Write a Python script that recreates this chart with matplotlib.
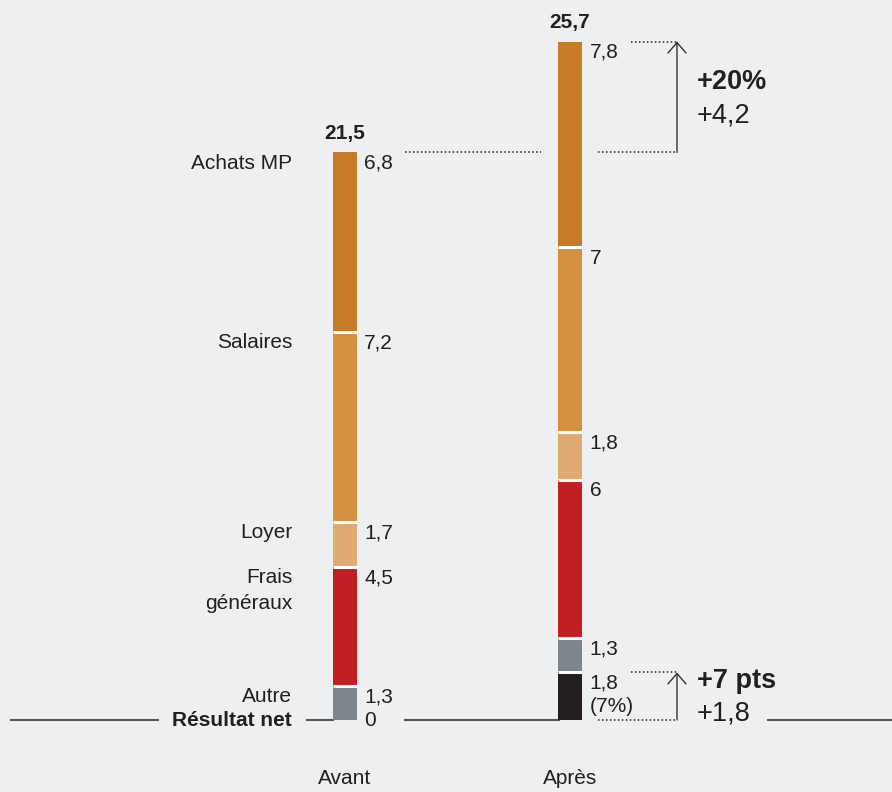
import matplotlib.pyplot as plt
from matplotlib.patches import FancyArrowPatch

# données (bas -> haut)
postes = ["Résultat net", "Autre", "Frais\ngénéraux", "Loyer", "Salaires", "Achats MP"]
avant = [0, 1.3, 4.5, 1.7, 7.2, 6.8]
apres = [1.8, 1.3, 6, 1.8, 7, 7.8]
periodes = ["Avant", "Après"]
totaux = ["21,5", "25,7"]
couleurs = ["#231f20", "#7e858b", "#c21f24", "#e0aa72", "#d49140", "#c77a27"]
labels_avant = ["0", "1,3", "4,5", "1,7", "7,2", "6,8"]
labels_apres = ["1,8\n(7%)", "1,3", "6", "1,8", "7", "7,8"]

fond = "#eeeff1"
texte = "#231f20"
plt.rcParams['font.family'] = ['Liberation Sans', 'DejaVu Sans']

W, H = 892, 792
fig = plt.figure(figsize=(W / 100, H / 100), dpi=100, facecolor=fond)
ax = fig.add_axes([0, 0, 1, 1])
ax.set_facecolor(fond)
ax.axis('off')

# echelle: 1 unite = 26.4 px, zero a y=720 ; barres a x=344.5 et 570
ppu = 26.4
ax.set_ylim(-(H - 720) / ppu, 720 / ppu)
x0, dx = 344.5, 225.5
ax.set_xlim(-x0 / dx, (W - x0) / dx)


def px(p):
    return (p - x0) / dx


largeur = 24 / dx
fs = 15
fs_big = 19.5

for i, (vals, labs) in enumerate([(avant, labels_avant), (apres, labels_apres)]):
    bas = 0
    for j, v in enumerate(vals):
        haut = bas + v
        if v > 0:
            ax.bar(i, v, bottom=bas, width=largeur, color=couleurs[j],
                   linewidth=0, zorder=3)
            # separation blanche entre segments
            if j < len(vals) - 1:
                ax.hlines(haut, i - largeur / 2, i + largeur / 2, color="white",
                          lw=2.2, zorder=4)
        if j == 0 and i == 0:
            ax.annotate(labs[j], (i + largeur / 2, 0), xytext=(5.5, 0),
                        textcoords="offset points", ha="left", va="center",
                        fontsize=fs, color=texte)
        else:
            ax.annotate(labs[j], (i + largeur / 2, haut), xytext=(5.5, -1),
                        textcoords="offset points", ha="left", va="top",
                        fontsize=fs, color=texte, linespacing=1.25)
        if i == 0:
            if j == 0:
                ax.annotate(postes[j], (i - largeur / 2, 0), xytext=(-29, 0),
                            textcoords="offset points", ha="right", va="center",
                            fontsize=fs, color=texte, fontweight="bold")
            else:
                ax.annotate(postes[j], (i - largeur / 2, haut), xytext=(-29, -1),
                            textcoords="offset points", ha="right", va="top",
                            fontsize=fs, color=texte, linespacing=1.45)
        bas = haut
    ax.annotate(totaux[i], (i, bas), xytext=(0, 9.5), textcoords="offset points",
                ha="center", va="baseline", fontsize=fs, fontweight="bold",
                color=texte)
    ax.text(i, -2.2, periodes[i], ha="center", va="center", fontsize=fs,
            color=texte)

# ligne de base
for a, b in [(10, 159), (306, 334), (404, 560), (767, 892)]:
    ax.plot([px(a), px(b)], [0, 0], color="#555555", lw=1.5, zorder=2,
            solid_capstyle="butt")

tot_av = sum(avant)
tot_ap = sum(apres)
res_ap = apres[0]
xa = px(677)
pointille = dict(color=texte, lw=1.1, ls=(0, (1, 1.6)), zorder=2)

# ecart du total
ax.plot([px(405), px(541)], [tot_av, tot_av], **pointille)
ax.plot([px(598), xa], [tot_av, tot_av], **pointille)
ax.plot([px(631), xa], [tot_ap, tot_ap], **pointille)
ax.add_patch(FancyArrowPatch((xa, tot_av), (xa, tot_ap),
                             arrowstyle="->,head_length=0.75,head_width=0.65",
                             mutation_scale=10, color="#333333", lw=1,
                             shrinkA=0, shrinkB=0))
ax.text(px(697), (720 - 82) / ppu, "+20%", ha="left", va="center",
        fontsize=fs_big, fontweight="bold", color=texte)
ax.text(px(697), (720 - 115) / ppu, "+4,2", ha="left", va="center",
        fontsize=fs_big, color=texte)

# ecart du resultat
ax.plot([px(631), xa], [res_ap, res_ap], **pointille)
ax.plot([px(598), xa], [0, 0], **pointille)
ax.add_patch(FancyArrowPatch((xa, 0), (xa, res_ap),
                             arrowstyle="->,head_length=0.75,head_width=0.65",
                             mutation_scale=10, color="#333333", lw=1,
                             shrinkA=0, shrinkB=0))
ax.text(px(697), (720 - 681) / ppu, "+7 pts", ha="left", va="center",
        fontsize=fs_big, fontweight="bold", color=texte)
ax.text(px(697), (720 - 713) / ppu, "+1,8", ha="left", va="center",
        fontsize=fs_big, color=texte)

fig.savefig("out.png", dpi=100, facecolor=fond)
